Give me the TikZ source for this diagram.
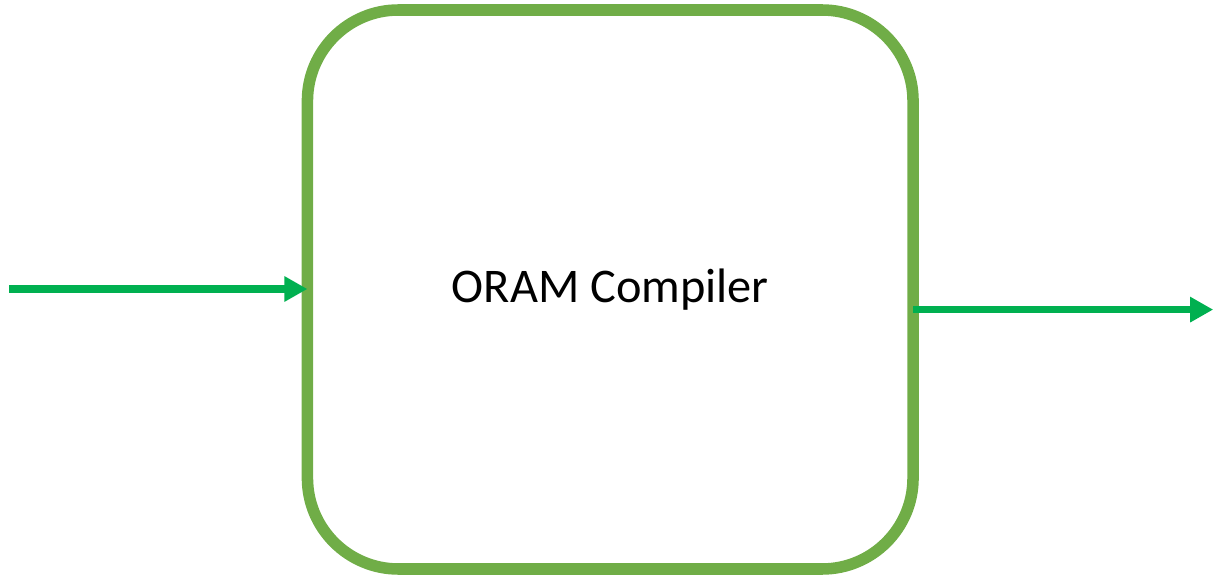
\documentclass[tikz,border=0pt]{standalone}
\usepackage{fontspec}
\setmainfont{Carlito}
\usetikzlibrary{arrows.meta}
\definecolor{boxgreen}{HTML}{70AD47}
\definecolor{flowgreen}{HTML}{00B050}
\tikzset{
	flow/.style={line width=5pt, flowgreen, -{Triangle[length=0.575cm, width=0.6cm]}},
	stage/.style={draw=boxgreen, line width=8.2pt, rounded corners=2.275cm, outer sep=0pt,
		minimum width=15.14cm, minimum height=13.975cm, font=\fontsize{34.4}{41}\selectfont}
}
\begin{document}
\begin{tikzpicture}
	\useasboundingbox (0,0) rectangle (30.425,14.4);
	
	%compiler
	\node[stage] (compiler) at (15.256,7.1625) {ORAM Compiler};
	
	%input and output
	\coordinate (src) at (0.23,7.175);
	\coordinate (dst) at (30.33,6.66);
	\draw[flow] (src) -- (src -| compiler.west);
	\draw[flow] (compiler.east |- dst) -- (dst);
\end{tikzpicture}
\end{document}
